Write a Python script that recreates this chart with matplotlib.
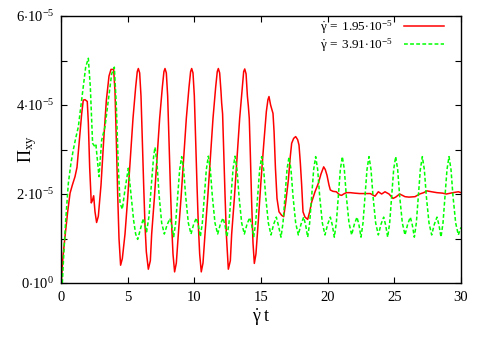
import matplotlib
matplotlib.use("Agg")
import matplotlib.pyplot as plt
import numpy as np

# shear rate 1.95e-5 (values in units of 1e-5)
red_t = [0.02, 0.15, 0.3, 0.5, 0.68, 0.85, 1.05, 1.2, 1.4, 1.55, 1.67, 1.8, 1.97, 2.05, 2.15, 2.27, 2.35, 2.45, 2.55, 2.67, 2.8,
         3.0, 3.2, 3.4, 3.6, 3.75, 3.95, 4.05, 4.15, 4.25, 4.35, 4.47, 4.6,
         4.8, 5.0, 5.2, 5.4, 5.6, 5.72, 5.8, 5.9, 6.0, 6.1, 6.2, 6.3, 6.4, 6.55, 6.7,
         6.8, 7.0, 7.2, 7.4, 7.6, 7.72, 7.8, 7.9, 8.0, 8.1, 8.2, 8.3, 8.4, 8.52, 8.65,
         8.8, 9.0, 9.2, 9.4, 9.6, 9.72, 9.8, 9.9, 10.0, 10.1, 10.2, 10.3, 10.4, 10.52, 10.65,
         10.8, 11.0, 11.2, 11.4, 11.6, 11.72, 11.8, 11.9, 12.0, 12.05, 12.12, 12.2, 12.3, 12.4, 12.55, 12.7,
         12.8, 13.0, 13.2, 13.4, 13.6, 13.7, 13.78, 13.88, 13.98, 14.05, 14.12, 14.2, 14.3, 14.4, 14.5, 14.62,
         14.8, 15.0, 15.2, 15.4, 15.52, 15.6, 15.72, 15.9, 15.98, 16.08, 16.2, 16.35, 16.55, 16.7, 16.85,
         17.05, 17.2, 17.3, 17.45, 17.6, 17.75, 17.85, 17.95, 18.05, 18.15, 18.3, 18.5, 18.65, 18.8,
         19.05, 19.3, 19.5, 19.7, 19.82, 19.95, 20.1, 20.2, 20.4, 20.65, 20.9, 21.05, 21.2, 21.4,
         21.7, 22.0, 22.4, 22.8, 23.2, 23.55, 23.8, 24.05, 24.3, 24.6, 24.9, 25.1, 25.4, 25.8,
         26.1, 26.55, 26.9, 27.2, 27.45, 27.8, 28.2, 28.6, 28.9, 29.4, 29.8, 30.0]
red_v = [0.0, 0.6, 1.04, 1.6, 2.02, 2.2, 2.39, 2.6, 3.3, 3.8, 4.11, 4.12, 4.08, 3.6, 2.6, 1.8, 1.85, 1.96, 1.6, 1.36, 1.5,
         2.2, 3.2, 4.1, 4.65, 4.8, 4.8, 4.3, 3.2, 2.0, 1.0, 0.40, 0.55,
         1.1, 1.9, 2.8, 3.7, 4.4, 4.75, 4.82, 4.72, 4.2, 3.2, 2.2, 1.3, 0.7, 0.31, 0.5,
         1.1, 1.9, 2.8, 3.7, 4.4, 4.75, 4.82, 4.72, 4.2, 3.2, 2.2, 1.3, 0.65, 0.25, 0.45,
         1.1, 1.9, 2.8, 3.7, 4.4, 4.75, 4.82, 4.72, 4.2, 3.2, 2.2, 1.3, 0.65, 0.25, 0.45,
         1.1, 1.9, 2.8, 3.7, 4.4, 4.75, 4.82, 4.72, 4.3, 4.04, 3.8, 3.0, 2.0, 1.1, 0.31, 0.5,
         1.1, 1.9, 2.8, 3.7, 4.4, 4.75, 4.81, 4.7, 4.2, 3.98, 3.7, 2.9, 1.8, 0.9, 0.44, 0.65,
         1.4, 2.3, 3.1, 3.85, 4.12, 4.19, 4.0, 3.81, 3.4, 2.6, 1.9, 1.6, 1.52, 1.49, 1.8,
         2.31, 2.85, 3.14, 3.25, 3.29, 3.22, 3.1, 2.7, 2.2, 1.6, 1.48, 1.43, 1.6, 1.82,
         2.05, 2.24, 2.45, 2.61, 2.55, 2.42, 2.2, 2.09, 2.06, 2.05, 1.98, 1.97, 2.0, 2.03,
         2.03, 2.02, 2.01, 2.01, 2.01, 1.95, 2.05, 2.0, 2.05, 2.0, 1.9, 1.93, 2.0, 1.94,
         1.93, 1.94, 2.0, 2.03, 2.07, 2.05, 2.03, 2.02, 2.0, 2.03, 2.05, 2.03]

# shear rate 3.91e-5 (values in units of 1e-5)
green_t = [0.1, 0.2, 0.35, 0.55, 0.75, 0.92, 1.1, 1.3, 1.5, 1.67, 1.85, 2.05, 2.2, 2.37, 2.55, 2.62, 2.72, 2.85,
           3.05, 3.3, 3.55, 3.8, 4.0, 4.15, 4.3, 4.43, 4.6, 4.8, 5.05, 5.25, 5.45, 5.6, 5.75, 5.95, 6.17, 6.3, 6.42,
           6.6, 6.8, 6.95, 7.05, 7.2, 7.35, 7.55, 7.75, 7.95, 8.17, 8.3,
           8.45, 8.6, 8.75, 8.9, 9.05, 9.2, 9.35, 9.55, 9.75, 9.95, 10.15, 10.3,
           10.45, 10.6, 10.75, 10.9, 11.05, 11.2, 11.35, 11.55, 11.75, 11.95, 12.15, 12.3,
           12.45, 12.6, 12.75, 12.9, 13.05, 13.2, 13.35, 13.55, 13.75, 13.95, 14.15, 14.3,
           14.45, 14.6, 14.75, 14.9, 15.05, 15.2, 15.35, 15.55, 15.75, 15.95, 16.15, 16.3,
           16.5, 16.65, 16.8, 16.95, 17.1, 17.25, 17.4, 17.6, 17.8, 18.0, 18.2, 18.35,
           18.5, 18.65, 18.8, 18.95, 19.1, 19.25, 19.4, 19.6, 19.8, 20.0, 20.2, 20.35,
           20.5, 20.65, 20.8, 20.95, 21.1, 21.25, 21.4, 21.6, 21.8, 22.0, 22.2, 22.35,
           22.5, 22.65, 22.8, 22.95, 23.1, 23.25, 23.4, 23.6, 23.8, 24.0, 24.2, 24.35,
           24.5, 24.65, 24.8, 24.95, 25.1, 25.25, 25.4, 25.6, 25.8, 26.0, 26.2, 26.35,
           26.5, 26.65, 26.8, 26.95, 27.1, 27.25, 27.4, 27.6, 27.8, 28.0, 28.2, 28.35,
           28.5, 28.65, 28.8, 28.95, 29.1, 29.25, 29.4, 29.6, 29.8, 30.0]
green_v = [0.0, 0.6, 1.4, 2.24, 2.7, 2.99, 3.25, 3.51, 4.0, 4.41, 4.85, 5.05, 4.4, 3.14, 3.06, 3.1, 2.8, 2.39,
           3.21, 3.51, 4.11, 4.7, 4.85, 4.0, 2.6, 1.79, 1.66, 2.1, 2.58, 2.0, 1.4, 1.1, 0.98, 1.2, 1.45, 1.3, 1.15,
           1.5, 2.3, 2.85, 3.05, 2.7, 2.0, 1.35, 1.1, 1.3, 1.45, 1.3,
           1.04, 1.35, 1.95, 2.55, 2.84, 2.55, 1.95, 1.35, 1.1, 1.32, 1.46, 1.3,
           1.04, 1.35, 1.95, 2.55, 2.85, 2.55, 1.95, 1.35, 1.1, 1.32, 1.46, 1.3,
           1.04, 1.35, 1.95, 2.55, 2.85, 2.55, 1.95, 1.35, 1.1, 1.32, 1.47, 1.3,
           1.04, 1.35, 1.95, 2.55, 2.84, 2.55, 1.95, 1.35, 1.08, 1.32, 1.48, 1.3,
           1.03, 1.35, 1.95, 2.55, 2.83, 2.55, 1.95, 1.35, 1.08, 1.32, 1.48, 1.3,
           1.03, 1.35, 1.95, 2.55, 2.84, 2.55, 1.95, 1.35, 1.08, 1.32, 1.48, 1.3,
           1.03, 1.35, 1.95, 2.55, 2.84, 2.55, 1.95, 1.35, 1.08, 1.32, 1.48, 1.3,
           1.03, 1.35, 1.95, 2.55, 2.84, 2.55, 1.95, 1.35, 1.08, 1.32, 1.48, 1.3,
           1.03, 1.35, 1.95, 2.55, 2.84, 2.55, 1.95, 1.35, 1.08, 1.32, 1.48, 1.3,
           1.03, 1.35, 1.95, 2.55, 2.84, 2.55, 1.95, 1.35, 1.08, 1.32, 1.48, 1.3,
           1.03, 1.35, 1.95, 2.55, 2.84, 2.55, 1.95, 1.35, 1.08, 1.25]

x_ticks = [0, 5, 10, 15, 20, 25, 30]
y_ticks = [0, 1, 2, 3, 4, 5, 6]
y_tick_labels = [r'$0{\cdot}10^{0}$', '', r'$2{\cdot}10^{-5}$', '', r'$4{\cdot}10^{-5}$', '', r'$6{\cdot}10^{-5}$']
labels = [r'$\dot{\mathrm{\gamma}}\:=\:1.95{\cdot}10^{-5}$', r'$\dot{\mathrm{\gamma}}\:=\:3.91{\cdot}10^{-5}$']

plt.rcParams['font.family'] = ['Liberation Serif', 'DejaVu Serif']
plt.rcParams['mathtext.fontset'] = 'custom'
plt.rcParams['mathtext.rm'] = 'Liberation Serif'
plt.rcParams['mathtext.it'] = 'Liberation Serif:italic'
plt.rcParams['mathtext.bf'] = 'Liberation Serif:bold'
plt.rcParams['mathtext.default'] = 'rm'

fig = plt.figure(figsize=(4.86, 3.40), dpi=100)
ax = fig.add_axes([61/486, 57/340, 400/486, 267/340])

ax.plot(red_t, red_v, color='#ff0000', lw=1.1, label=labels[0])
ax.plot(green_t, green_v, color='#00ff00', lw=1.1, dashes=(2.5, 1.5), label=labels[1])

ax.set_xlim(0, 30)
ax.set_ylim(0, 6)
ax.set_xticks(x_ticks)
ax.set_xticklabels([str(v) for v in x_ticks])
ax.set_yticks(y_ticks)
ax.set_yticklabels(y_tick_labels)
ax.tick_params(direction='in', length=4, width=0.8, top=True, right=True, labelsize=10.5)
ax.tick_params(axis='x', pad=6)
ax.tick_params(axis='y', pad=5)
for s in ax.spines.values():
    s.set_linewidth(1.0)

ax.set_ylabel(r'$\Pi_{\mathrm{xy}}$', fontsize=13, va='center')
ax.yaxis.set_label_coords(-0.083, 0.5)
ax.set_xlabel(r'$\dot{\mathrm{\gamma}}\;\mathrm{t}$', fontsize=13, va='center')
ax.xaxis.set_label_coords(0.5, -0.13)

ax.legend(loc='upper right', bbox_to_anchor=(0.985, 1.03), frameon=False, markerfirst=False,
          fontsize=9.5, handlelength=3.1, handletextpad=0.8, labelspacing=0.0, borderpad=0.3)

fig.savefig('out.png', dpi=100)
